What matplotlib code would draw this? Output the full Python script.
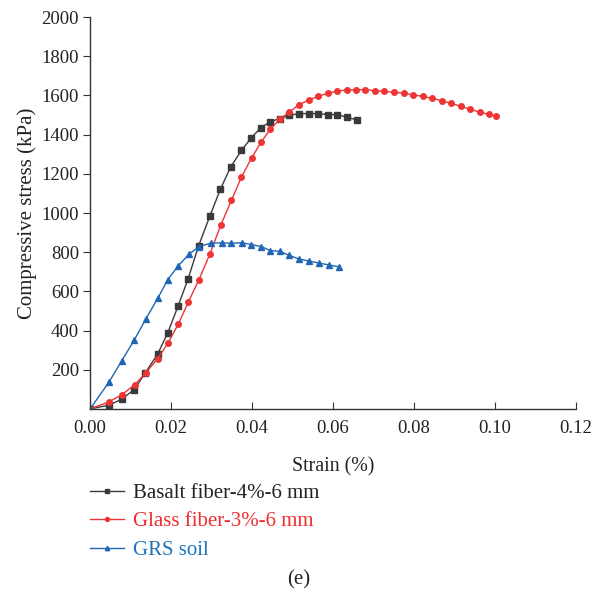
import matplotlib
matplotlib.use("Agg")
import matplotlib.pyplot as plt

plt.rcParams["font.family"] = ["Liberation Serif", "DejaVu Serif"]

# --- data ---
basalt_strain = [0.0, 0.0047, 0.0078, 0.0109, 0.0136, 0.0167, 0.0192, 0.0217, 0.0242,
                 0.0268, 0.0296, 0.0322, 0.0347, 0.0374, 0.0398, 0.0422, 0.0445, 0.0468,
                 0.0492, 0.0517, 0.0540, 0.0563, 0.0588, 0.0611, 0.0635, 0.0659]
basalt_stress = [0, 20, 50, 99, 183, 280, 389, 523, 663,
                 832, 985, 1122, 1234, 1320, 1383, 1436, 1465, 1482,
                 1499, 1507, 1507, 1507, 1502, 1502, 1488, 1475]

glass_strain = [0.0, 0.0047, 0.0078, 0.0110, 0.0137, 0.0167, 0.0193, 0.0218, 0.0243,
                0.0269, 0.0296, 0.0323, 0.0349, 0.0374, 0.0399, 0.0422, 0.0445, 0.0468,
                0.0492, 0.0516, 0.0540, 0.0563, 0.0587, 0.0611, 0.0634, 0.0657, 0.0680,
                0.0704, 0.0727, 0.0750, 0.0774, 0.0797, 0.0821, 0.0844, 0.0869, 0.0892,
                0.0916, 0.0939, 0.0962, 0.0985, 0.1003]
glass_stress = [0, 37, 72, 123, 183, 257, 338, 433, 547,
                660, 791, 939, 1064, 1184, 1281, 1360, 1427, 1478,
                1515, 1553, 1576, 1596, 1610, 1623, 1627, 1628, 1630,
                1623, 1620, 1616, 1611, 1603, 1595, 1585, 1573, 1559,
                1544, 1529, 1515, 1503, 1494]

grs_strain = [0.0, 0.0047, 0.0078, 0.0109, 0.0138, 0.0167, 0.0192, 0.0218, 0.0245,
              0.0270, 0.0298, 0.0325, 0.0349, 0.0375, 0.0398, 0.0423, 0.0445, 0.0468,
              0.0492, 0.0515, 0.0540, 0.0565, 0.0590, 0.0615]
grs_stress = [0, 138, 245, 351, 460, 564, 660, 731, 791,
              829, 846, 848, 846, 848, 839, 829, 808, 805,
              784, 766, 755, 745, 735, 725]

labels = ["Basalt fiber-4%-6 mm", "Glass fiber-3%-6 mm", "GRS soil"]
x_ticks = [0.00, 0.02, 0.04, 0.06, 0.08, 0.10, 0.12]
y_ticks = [200, 400, 600, 800, 1000, 1200, 1400, 1600, 1800, 2000]

fig = plt.figure(figsize=(5.93, 5.97), dpi=100)
ax = fig.add_axes([0.1518, 0.3149, 0.8196, 0.6566])

ax.plot(basalt_strain, basalt_stress, color="#3a3a3a", lw=1.0, marker="s", ms=4,
        label=labels[0])
ax.plot(glass_strain, glass_stress, color="#ee3535", lw=1.0, marker="o", ms=4,
        label=labels[1])
ax.plot(grs_strain, grs_stress, color="#2066b4", lw=1.0, marker="^", ms=4.5,
        label=labels[2])

ax.set_xlim(0, 0.12)
ax.set_ylim(0, 2000)
ax.set_xticks(x_ticks)
ax.set_xticklabels([f"{v:.2f}" for v in x_ticks])
ax.set_yticks(y_ticks)
ax.spines["top"].set_visible(False)
ax.spines["right"].set_visible(False)
for sp in ("left", "bottom"):
    ax.spines[sp].set_color("#333333")
    ax.spines[sp].set_linewidth(1.0)
ax.tick_params(axis="x", direction="in", length=5, labelsize=13.5, pad=8, colors="#333333",
               labelcolor="#222222")
ax.tick_params(axis="y", direction="out", length=5, labelsize=13.5, pad=3, colors="#333333",
               labelcolor="#222222")

ax.set_xlabel("Strain (%)", fontsize=14.3, color="#222222", labelpad=14.6)
ax.set_ylabel("Compressive stress (kPa)", fontsize=15, color="#222222", labelpad=3)

leg = fig.legend(loc="upper left", bbox_to_anchor=(0.1518, 0.190), frameon=False,
                 fontsize=15, handlelength=1.63, handletextpad=0.43, labelspacing=0.42,
                 borderaxespad=0, borderpad=0,
                 markerscale=0.7, labelcolor=["#222222", "#ee2d2d", "#1c75bc"])

fig.text(0.503, 0.028, "(e)", ha="center", va="center", fontsize=15, color="#222222")

fig.savefig("out.png", dpi=100)
